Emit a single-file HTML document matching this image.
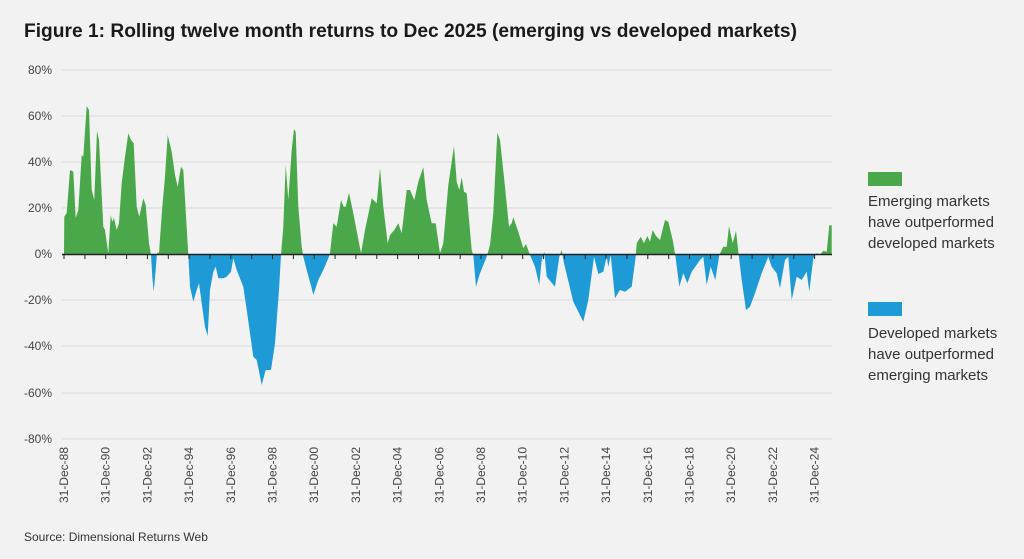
<!DOCTYPE html>
<html><head><meta charset="utf-8"><style>
html,body{margin:0;padding:0;background:#f2f2f2;}
svg{display:block;font-family:"Liberation Sans",sans-serif;}
</style></head><body>
<svg width="1024" height="559" viewBox="0 0 1024 559" xmlns="http://www.w3.org/2000/svg">
<rect width="1024" height="559" fill="#f2f2f2"/>
<text x="24" y="37" font-size="19" font-weight="bold" fill="#1a1a1a" textLength="773" lengthAdjust="spacingAndGlyphs">Figure 1: Rolling twelve month returns to Dec 2025 (emerging vs developed markets)</text>
<g stroke="#d9d9d9" stroke-width="1">
<line x1="62" x2="832" y1="70" y2="70"/><line x1="62" x2="832" y1="116" y2="116"/>
<line x1="62" x2="832" y1="162" y2="162"/><line x1="62" x2="832" y1="208" y2="208"/>
<line x1="62" x2="832" y1="300" y2="300"/><line x1="62" x2="832" y1="346" y2="346"/>
<line x1="62" x2="832" y1="393" y2="393"/><line x1="62" x2="832" y1="439" y2="439"/>
</g>
<g font-size="12" fill="#444" text-anchor="end">
<text x="52" y="74">80%</text><text x="52" y="120">60%</text><text x="52" y="166">40%</text>
<text x="52" y="212">20%</text><text x="52" y="258">0%</text><text x="52" y="304">-20%</text>
<text x="52" y="350">-40%</text><text x="52" y="397">-60%</text><text x="52" y="443">-80%</text>
</g>
<defs>
<clipPath id="up"><rect x="0" y="0" width="1024" height="254.5"/></clipPath>
<clipPath id="dn"><rect x="0" y="254.5" width="1024" height="300"/></clipPath>
<path id="s" d="M64,254.5 L64.3,216.7 66.7,213 70,170 73.3,171.7 75.7,218 78.3,210 81.7,155 83.3,156.7 86.7,106 89,110 91.7,190 94.3,200 97,130.7 99,140 103.3,226.7 105,230 108.3,253.3 110.7,215 112.3,221.7 114,218 116.7,230 119,223 121.7,183 125,156.7 128.3,133.3 131,140 133.7,143.3 136.7,206.7 139.3,216.7 143.3,198.3 145.7,205 149,243 151,255 152.3,276.7 153.7,291.7 155.7,270 157,252.7 159,252.7 162.3,206.7 165,176.7 167.7,135 171.7,151.7 175,175 177.7,186.7 181,166.7 183.3,170 188.3,255 190,286.7 193.3,301.7 196.7,290 199,283.3 201.7,303.3 205,326.7 207.7,336 210,290 213.3,271.7 215.7,266.7 218.3,278.3 223.3,278.3 226.7,276.7 231,271.7 233.3,258.3 236.7,270 243.3,286.7 247.7,316.7 253.3,356.7 256.7,360 261.7,385 265.7,370 271,370 275,343.3 279,290 281,255 283.3,226.7 285.7,165 288.3,200 291.7,150 294,129.3 295.7,131.7 298.3,206.7 301.7,246.7 303.3,256.7 306.7,270 311.7,288.3 313.3,295 318.3,280 323.3,270 328.3,258.3 330,253.3 333.3,223.3 336.7,226.7 341,200 343.7,206.7 345.7,206.7 349,192.7 353.3,213.3 361,253.3 365,230 371.7,198.3 376.7,203.3 380,168.3 383.3,206.7 387.7,243.3 390,235 394.3,230 398.3,223.3 401.7,233.3 406.7,190 410,190 414.3,200 418.3,181.7 423.3,167.3 426.7,200 431.7,223.3 435.7,223.3 440,253.3 443.3,243.3 448.3,185 454,146 456.7,181.7 459.3,190 461.7,177.3 464,191.7 466.7,193.3 471.7,250 473.3,255 476,286.7 480,273.3 486.7,256.7 490,245 493.3,213.3 497.3,132.7 500,140 505,186.7 509,226.7 511.7,223.3 513.3,217.3 518.3,231.7 523.3,248.3 526,244 530,255 535,266.7 539.3,285 541.7,260 544.3,251.7 546.7,276.7 555,286.7 559.3,256.7 561.7,250 564,263.3 573.3,301.7 583.3,321.7 588.3,300 594,256.7 598.3,274 603.3,271.7 606.7,256.7 608.3,266.7 610.7,255 615,298.3 620,290 625,291.7 631.7,286.7 635.7,256.7 636.7,243.3 640.7,236.7 644,243.3 647.3,236 650,241.7 652.7,230 656,236 660,240 665,220 668.3,221.7 672.7,240 675.3,255 679.3,286.7 683.3,273.3 687.3,283.3 691.7,271.7 700,260 703.3,256.7 706.7,285 710.7,266.7 715.3,280 719.3,255 723.3,246.7 726.7,246.7 729,226 732.7,243.3 736,230.7 738.7,255 741.7,280 746,310 750,306.7 755,293.3 761.7,273.3 768.3,256.7 771.7,266.7 776.7,273.3 780,288.3 785,260 788.3,256.7 791.7,300 796.7,276.7 801.7,280 806.7,271.7 809.3,291.7 813.3,258.3 816.7,253.3 820,255 823.3,250.7 826.7,251.7 829.3,225.3 831.7,225.3 831.7,254.5 Z"/>
</defs>
<use href="#s" fill="#4aa84a" clip-path="url(#up)"/>
<use href="#s" fill="#1e9bd7" clip-path="url(#dn)"/>
<line x1="62" x2="832" y1="254.5" y2="254.5" stroke="#222" stroke-width="1.5"/>
<g stroke="#222" stroke-width="1">
<path d="M64,255v4M84.9,255v4M105.7,255v4M126.6,255v4M147.4,255v4M168.3,255v4M189.1,255v4M210,255v4M230.8,255v4M251.7,255v4M272.5,255v4M293.4,255v4M314.2,255v4M335.1,255v4M355.9,255v4M376.8,255v4M397.6,255v4M418.5,255v4M439.3,255v4M460.2,255v4M481,255v4M501.9,255v4M522.7,255v4M543.6,255v4M564.4,255v4M585.3,255v4M606.1,255v4M627,255v4M647.8,255v4M668.7,255v4M689.5,255v4M710.4,255v4M731.2,255v4M752.1,255v4M772.9,255v4M793.8,255v4M814.6,255v4"/>
</g>
<g font-size="12" fill="#444" text-anchor="end">
<text transform="translate(68,447) rotate(-90)">31-Dec-88</text>
<text transform="translate(109.7,447) rotate(-90)">31-Dec-90</text>
<text transform="translate(151.4,447) rotate(-90)">31-Dec-92</text>
<text transform="translate(193.1,447) rotate(-90)">31-Dec-94</text>
<text transform="translate(234.8,447) rotate(-90)">31-Dec-96</text>
<text transform="translate(276.5,447) rotate(-90)">31-Dec-98</text>
<text transform="translate(318.2,447) rotate(-90)">31-Dec-00</text>
<text transform="translate(359.9,447) rotate(-90)">31-Dec-02</text>
<text transform="translate(401.6,447) rotate(-90)">31-Dec-04</text>
<text transform="translate(443.3,447) rotate(-90)">31-Dec-06</text>
<text transform="translate(485,447) rotate(-90)">31-Dec-08</text>
<text transform="translate(526.7,447) rotate(-90)">31-Dec-10</text>
<text transform="translate(568.4,447) rotate(-90)">31-Dec-12</text>
<text transform="translate(610.1,447) rotate(-90)">31-Dec-14</text>
<text transform="translate(651.8,447) rotate(-90)">31-Dec-16</text>
<text transform="translate(693.5,447) rotate(-90)">31-Dec-18</text>
<text transform="translate(735.2,447) rotate(-90)">31-Dec-20</text>
<text transform="translate(776.9,447) rotate(-90)">31-Dec-22</text>
<text transform="translate(818.6,447) rotate(-90)">31-Dec-24</text>
</g>
<rect x="868" y="172" width="34" height="14" fill="#4aa84a"/>
<g font-size="15" fill="#333">
<text x="868" y="206">Emerging markets</text>
<text x="868" y="227">have outperformed</text>
<text x="868" y="248">developed markets</text>
</g>
<rect x="868" y="302" width="34" height="14" fill="#1e9bd7"/>
<g font-size="15" fill="#333">
<text x="868" y="338">Developed markets</text>
<text x="868" y="359">have outperformed</text>
<text x="868" y="380">emerging markets</text>
</g>
<text x="24" y="541" font-size="12" fill="#333">Source: Dimensional Returns Web</text>
</svg>
</body></html>
